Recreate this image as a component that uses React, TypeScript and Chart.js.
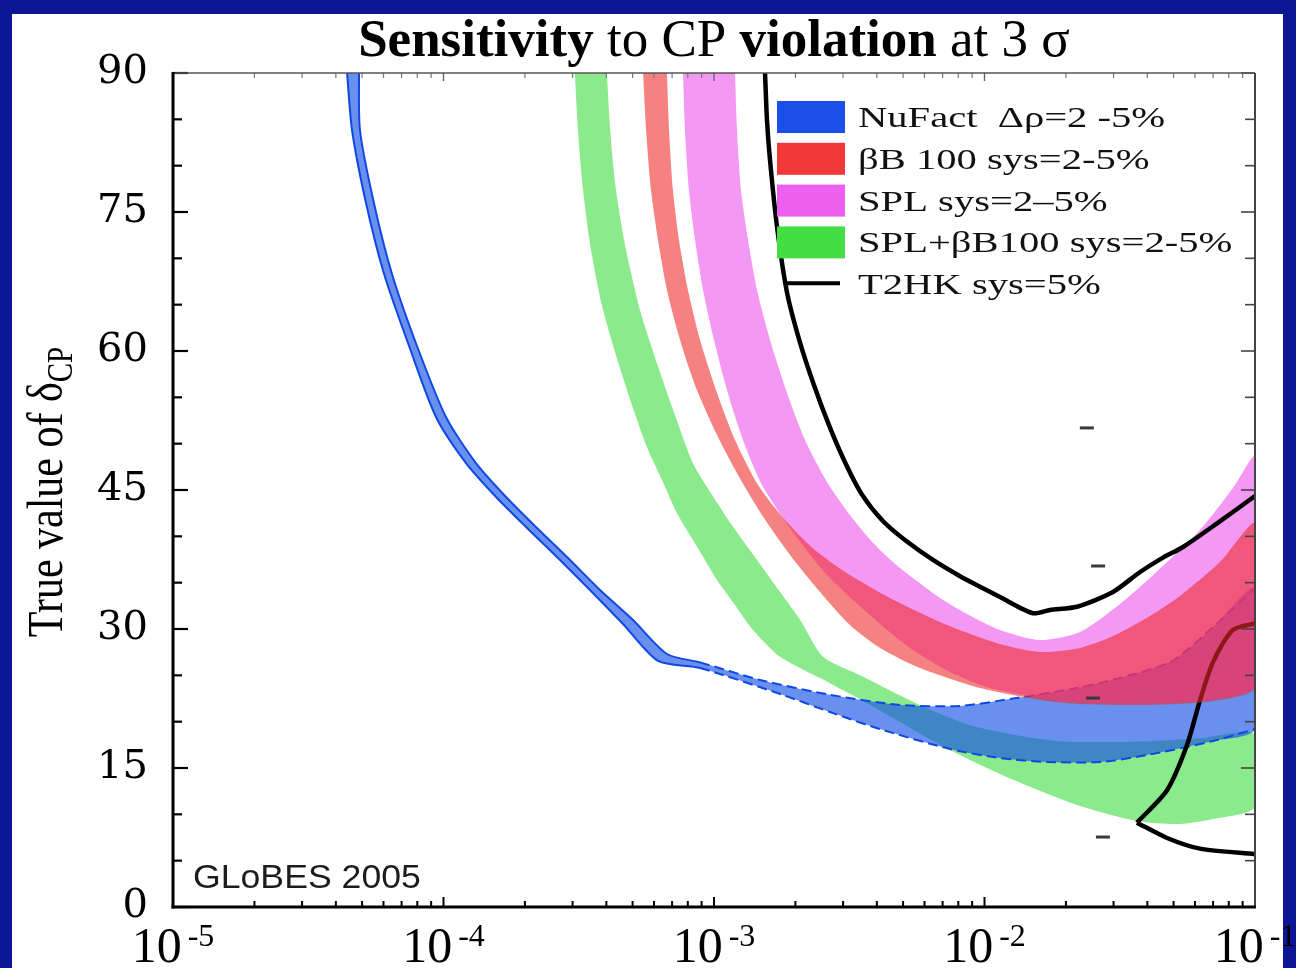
import React, { useEffect, useRef } from 'react';
import { Chart, registerables } from 'chart.js';
Chart.register(...registerables);

// ---------------- data (x = sin^2 2θ13 on log axis, y = true δCP in degrees) ----------------
const NUFACT_LOW_X = [4.4e-5, 4.59e-5, 5.17e-5, 6.03e-5, 7.46e-5, 9.38e-5, 1.211e-4, 1.577e-4, 2.036e-4, 2.65e-4, 3.48e-4, 4.61e-4, 6.21e-4, 8.88e-4, 1.8e-3, 2.684e-3, 4.11e-3, 7.46e-3, 1.141e-2, 1.702e-2, 2.673e-2, 3.988e-2, 6.99e-2, 0.1];
const NUFACT_LOW_Y = [90, 83.85, 75.97, 68.31, 60.54, 52.88, 47.91, 44.14, 40.9, 37.66, 34.21, 30.54, 26.55, 25.79, 22.88, 21.04, 19.2, 17.05, 16.08, 15.65, 15.65, 16.4, 17.91, 19.2];
const NUFACT_HIGH_X = [4.87e-5, 4.91e-5, 5.53e-5, 6.45e-5, 7.98e-5, 1.021e-4, 1.318e-4, 1.717e-4, 2.216e-4, 2.886e-4, 3.79e-4, 5.02e-4, 6.7e-4, 8.88e-4, 1.48e-3, 2.684e-3, 4.87e-3, 8.12e-3, 1.275e-2, 2.254e-2, 3.451e-2, 4.977e-2, 6.99e-2, 0.1];
const NUFACT_HIGH_Y = [90, 83.85, 75.97, 68.31, 60.54, 52.88, 47.91, 44.14, 40.9, 37.66, 34.21, 30.97, 27.3, 26.4, 24.5, 22.9, 21.8, 21.7, 22.5, 23.7, 25.0, 26.6, 30.2, 34.4];

const GREEN_LOW_X = [3.06e-4, 3.14e-4, 3.28e-4, 3.51e-4, 3.85e-4, 4.34e-4, 4.93e-4, 5.65e-4, 6.42e-4, 7.3e-4, 8.65e-4, 1.026e-3, 1.196e-3, 1.394e-3, 1.754e-3, 2.466e-3, 3.68e-3, 4.87e-3, 6.45e-3, 8.84e-3, 1.141e-2, 1.511e-2, 2.254e-2, 3.66e-2, 5.28e-2, 6.99e-2, 0.1];
const GREEN_LOW_Y = [90, 83.9, 77.4, 70.9, 64.96, 59.57, 54.5, 49.64, 46.1, 42.5, 38.9, 35.3, 32.6, 29.9, 27.0, 24.7, 22.0, 19.96, 17.91, 15.86, 14.35, 12.84, 10.9, 9.28, 8.96, 9.5, 10.79];
const GREEN_HIGH_X = [4.02e-4, 4.13e-4, 4.34e-4, 4.73e-4, 5.33e-4, 6.1e-4, 7.17e-4, 8.36e-4, 9.83e-4, 1.165e-3, 1.382e-3, 1.68e-3, 2.08e-3, 2.53e-3, 3.47e-3, 4.59e-3, 6.29e-3, 8.84e-3, 1.275e-2, 1.901e-2, 2.673e-2, 4.09e-2, 6.26e-2, 0.1];
const GREEN_HIGH_Y = [90, 83.9, 77.4, 70.9, 64.4, 59.0, 53.1, 47.9, 44.5, 41.2, 38.2, 34.75, 31.0, 27.0, 25.0, 23.2, 21.3, 19.6, 18.6, 17.9, 17.8, 17.9, 18.2, 18.6];

const RED_LOW_X = [5.47e-4, 5.61e-4, 5.85e-4, 6.21e-4, 6.7e-4, 7.49e-4, 8.65e-4, 1.026e-3, 1.227e-3, 1.505e-3, 1.91e-3, 2.466e-3, 3.18e-3, 4.11e-3, 5.78e-3, 9.63e-3, 1.702e-2, 2.254e-2, 3.988e-2, 6.99e-2, 0.1];
const RED_LOW_Y = [90, 83.85, 77.37, 71.98, 66.58, 61.19, 55.79, 50.93, 46.62, 42.3, 37.99, 33.99, 30.43, 27.95, 25.79, 23.63, 22.23, 21.91, 21.8, 22.23, 23.74];
const RED_HIGH_X = [6.7e-4, 6.82e-4, 7.05e-4, 7.42e-4, 8.01e-4, 8.88e-4, 1.017e-3, 1.196e-3, 1.455e-3, 1.83e-3, 2.36e-3, 3.18e-3, 4.47e-3, 7.27e-3, 1.141e-2, 1.605e-2, 2.254e-2, 2.985e-2, 4.09e-2, 5.28e-2, 7.42e-2, 0.1];
const RED_HIGH_Y = [90, 83.85, 77.37, 71.98, 66.58, 61.19, 55.79, 50.39, 45.54, 41.76, 38.53, 35.83, 33.35, 30.43, 28.38, 27.52, 27.95, 29.24, 31.4, 33.56, 37.23, 41.33];

const SPL_LOW_X = [7.68e-4, 7.81e-4, 8.08e-4, 8.51e-4, 9.11e-4, 1.0e-3, 1.117e-3, 1.28e-3, 1.505e-3, 1.91e-3, 2.617e-3, 3.77e-3, 5.3e-3, 7.46e-3, 1.048e-2, 1.702e-2, 2.254e-2, 3.988e-2, 6.99e-2, 0.1];
const SPL_LOW_Y = [90, 83.85, 77.37, 71.98, 66.58, 61.19, 55.79, 50.39, 45.54, 40.9, 35.83, 31.51, 27.95, 25.36, 23.63, 22.45, 22.12, 22.01, 22.45, 23.96];
const SPL_HIGH_X = [1.196e-3, 1.216e-3, 1.258e-3, 1.336e-3, 1.442e-3, 1.611e-3, 1.846e-3, 2.17e-3, 2.617e-3, 3.18e-3, 3.94e-3, 4.87e-3, 6.85e-3, 8.62e-3, 1.141e-2, 1.605e-2, 2.254e-2, 3.17e-2, 4.09e-2, 6.26e-2, 8.29e-2, 0.1];
const SPL_HIGH_Y = [90, 83.85, 77.37, 71.98, 66.58, 61.19, 55.79, 50.39, 45.86, 42.3, 39.06, 36.58, 33.35, 31.62, 29.89, 28.81, 29.68, 32.7, 35.5, 40.68, 45.22, 48.56];

const T2HK_A_X = [1.544e-3, 1.57e-3, 1.611e-3, 1.71e-3, 1.862e-3, 2.08e-3, 2.343e-3, 2.661e-3, 3.05e-3, 3.525e-3, 4.21e-3, 5.08e-3, 6.45e-3, 8.12e-3, 9.87e-3, 1.141e-2, 1.511e-2, 1.746e-2, 2.198e-2, 2.985e-2, 3.76e-2, 4.57e-2, 5.42e-2, 7.24e-2, 0.1];
const T2HK_A_Y = [90, 84.9, 80.6, 73.4, 66.3, 60.9, 56.3, 52.0, 48.0, 44.5, 41.65, 39.6, 37.45, 35.7, 34.4, 33.45, 31.7, 32.05, 32.4, 34.0, 36.15, 37.7, 38.85, 41.4, 44.35];
const T2HK_B_X = [0.1, 8.29e-2, 6.99e-2, 6.26e-2, 5.61e-2, 4.73e-2, 3.66e-2];
const T2HK_B_Y = [30.6, 29.9, 26.4, 22.3, 17.5, 12.6, 9.1];
const T2HK_C_X = [3.66e-2, 4.73e-2, 6.26e-2, 0.1];
const T2HK_C_Y = [9.1, 7.45, 6.3, 5.7];

const MARK_X = [2.39e-2, 2.63e-2, 2.52e-2, 2.74e-2];
const MARK_Y = [51.7, 36.8, 22.55, 7.55];

const Y_TICKS = [0, 15, 30, 45, 60, 75, 90];
const Y_MINOR = [5, 10, 20, 25, 35, 40, 50, 55, 65, 70, 80, 85];
const X_DECADES = [1e-5, 1e-4, 1e-3, 1e-2, 1e-1];
const X_EXPONENTS = ['-5', '-4', '-3', '-2', '-1'];
const X_MINOR_MULT = [2, 3, 4, 5, 6, 7, 8, 9];

const TITLE_PARTS = [
  { t: 'Sensitivity', b: true },
  { t: ' to CP ', b: false },
  { t: 'violation', b: true },
  { t: ' at 3 ', b: false },
  { t: 'σ', b: false },
];
const LEGEND_LABELS = ['NuFact  Δρ=2 -5%', 'βB 100 sys=2-5%', 'SPL sys=2–5%', 'SPL+βB100 sys=2-5%', 'T2HK sys=5%'];
const LEGEND_COLORS = ['#1a50e8', '#f03838', '#ee5fee', '#44dd44', '#000000'];

// ---------------- helpers ----------------
const pts = (xs: number[], ys: number[]) => xs.map((x, i) => ({ x, y: ys[i] }));
const polygon = (lx: number[], ly: number[], ux: number[], uy: number[]) => [
  ...pts(lx, ly),
  ...pts(ux, uy).reverse(),
];

const TENSION = 0.25;

const band = (data: any[], color: string, order: number) => ({
  data,
  showLine: true,
  fill: 'shape',
  backgroundColor: color,
  borderColor: 'rgba(0,0,0,0)',
  borderWidth: 0,
  pointRadius: 0,
  tension: TENSION,
  order,
});

const curve = (data: any[], color: string, width: number, order: number, extra: any = {}) => ({
  data,
  showLine: true,
  fill: false,
  borderColor: color,
  borderWidth: width,
  borderJoinStyle: 'round',
  pointRadius: 0,
  tension: TENSION,
  order,
  ...extra,
});

const SERIF = '"Liberation Serif", "Times New Roman", serif';

const decor = {
  id: 'decor',
  afterDraw(chart: any) {
    const { ctx, chartArea: a } = chart;
    const xs = chart.scales.x;
    const ys = chart.scales.y;
    const seg = (x1: number, y1: number, x2: number, y2: number, w: number, c: string) => {
      ctx.beginPath();
      ctx.lineWidth = w;
      ctx.strokeStyle = c;
      ctx.moveTo(x1, y1);
      ctx.lineTo(x2, y2);
      ctx.stroke();
    };
    ctx.save();
    ctx.lineCap = 'butt';

    // y ticks (inward, left and right)
    for (const v of Y_TICKS) {
      const p = ys.getPixelForValue(v);
      seg(a.left, p, a.left + 15, p, 2.2, '#000');
      seg(a.right, p, a.right - 14, p, 1.6, '#444');
    }
    for (const v of Y_MINOR) {
      const p = ys.getPixelForValue(v);
      seg(a.left, p, a.left + 9, p, 2.2, '#000');
      seg(a.right, p, a.right - 10, p, 1.6, '#444');
    }
    // x ticks (inward, bottom and top)
    X_DECADES.forEach((d, i) => {
      const p = xs.getPixelForValue(d);
      seg(p, a.bottom, p, a.bottom - 10, 2, '#000');
      seg(p, a.top, p, a.top + 8, 1.4, '#666');
      if (i < X_DECADES.length - 1) {
        for (const m of X_MINOR_MULT) {
          const q = xs.getPixelForValue(d * m);
          seg(q, a.bottom, q, a.bottom - 6, 2, '#000');
          seg(q, a.top, q, a.top + 5, 1.2, '#777');
        }
      }
    });

    // frame
    seg(a.left, a.top, a.right, a.top, 1.6, '#555');
    seg(a.right, a.top, a.right, a.bottom, 2, '#444');
    seg(a.left, a.top - 1, a.left, a.bottom + 1.5, 3, '#000');
    seg(a.left - 1.5, a.bottom, a.right + 1, a.bottom, 3, '#000');

    // x labels 10^n
    ctx.fillStyle = '#000';
    ctx.textBaseline = 'alphabetic';
    ctx.textAlign = 'left';
    X_DECADES.forEach((d, i) => {
      const p = xs.getPixelForValue(d);
      ctx.font = `50px ${SERIF}`;
      const w1 = ctx.measureText('10').width;
      ctx.font = `32px ${SERIF}`;
      const w2 = ctx.measureText(X_EXPONENTS[i]).width;
      const gap = 6;
      const start = p - (w1 + gap + w2) / 2;
      ctx.font = `50px ${SERIF}`;
      ctx.fillText('10', start, 962);
      ctx.font = `32px ${SERIF}`;
      ctx.fillText(X_EXPONENTS[i], start + w1 + gap, 946);
    });

    // title with mixed weights
    const tsize = 53;
    let tw = 0;
    for (const part of TITLE_PARTS) {
      ctx.font = `${part.b ? 'bold ' : ''}${tsize}px ${SERIF}`;
      tw += ctx.measureText(part.t).width;
    }
    let tx = (a.left + a.right) / 2 - tw / 2;
    for (const part of TITLE_PARTS) {
      ctx.font = `${part.b ? 'bold ' : ''}${tsize}px ${SERIF}`;
      ctx.fillText(part.t, tx, 56);
      tx += ctx.measureText(part.t).width;
    }

    // y axis title (rotated, with subscript)
    ctx.save();
    ctx.translate(62, 492);
    ctx.rotate(-Math.PI / 2);
    ctx.scale(1, 1.2);
    ctx.font = `42px ${SERIF}`;
    const main = 'True value of δ';
    const wm = ctx.measureText(main).width;
    ctx.font = `29px ${SERIF}`;
    const ws = ctx.measureText('CP').width;
    const sx = -(wm + ws) / 2;
    ctx.font = `42px ${SERIF}`;
    ctx.fillText(main, sx, 0);
    ctx.font = `29px ${SERIF}`;
    ctx.fillText('CP', sx + wm, 8);
    ctx.restore();

    // GLoBES stamp
    ctx.save();
    ctx.translate(193, 888);
    ctx.scale(1.08, 1);
    ctx.font = '33px "Liberation Sans", Arial, sans-serif';
    ctx.fillStyle = '#1c1c1c';
    ctx.fillText('GLoBES 2005', 0, 0);
    ctx.restore();

    // legend
    LEGEND_LABELS.forEach((label, i) => {
      const base = 127 + i * 41.8;
      if (i < 4) {
        ctx.fillStyle = LEGEND_COLORS[i];
        ctx.fillRect(777, base - 26, 68, 32);
      } else {
        seg(785, base - 11, 840, base - 11, 4, '#000');
      }
      ctx.save();
      ctx.translate(858, base);
      ctx.scale(1.4, 1);
      ctx.font = `29px ${SERIF}`;
      ctx.fillStyle = '#111';
      ctx.fillText(label, 0, 0);
      ctx.restore();
    });

    ctx.restore();
  },
};

export default function App() {
  const ref = useRef<HTMLCanvasElement>(null);
  useEffect(() => {
    const canvas = ref.current;
    if (!canvas) return;
    const blueDash = { segment: { borderDash: (c: any) => (c.p0.parsed.x < 8e-4 ? [] : [10, 5]) } };
    const datasets: any[] = [
      band(polygon(GREEN_LOW_X, GREEN_LOW_Y, GREEN_HIGH_X, GREEN_HIGH_Y), 'rgba(36,215,36,0.53)', 10),
      band(polygon(NUFACT_LOW_X, NUFACT_LOW_Y, NUFACT_HIGH_X, NUFACT_HIGH_Y), 'rgba(20,80,230,0.64)', 9),
      curve(pts(NUFACT_LOW_X, NUFACT_LOW_Y), '#0f48e4', 2, 8, blueDash),
      curve(pts(NUFACT_HIGH_X, NUFACT_HIGH_Y), '#0f48e4', 2, 8, blueDash),
      band(polygon(SPL_LOW_X, SPL_LOW_Y, SPL_HIGH_X, SPL_HIGH_Y), 'rgba(235,80,235,0.59)', 7),
      curve(pts(T2HK_A_X, T2HK_A_Y), '#000', 4.5, 6),
      curve(pts(T2HK_B_X, T2HK_B_Y), '#000', 4.5, 6),
      curve(pts(T2HK_C_X, T2HK_C_Y), '#000', 4.5, 6),
      band(polygon(RED_LOW_X, RED_LOW_Y, RED_HIGH_X, RED_HIGH_Y), 'rgba(240,40,40,0.59)', 5),
      {
        data: pts(MARK_X, MARK_Y),
        showLine: false, fill: false, pointStyle: 'line', pointRadius: 7,
        pointBorderWidth: 3, pointBorderColor: '#3a3a3a', pointBackgroundColor: '#3a3a3a', order: 1,
      },
    ];
    const chart = new Chart(canvas, {
      type: 'line',
      data: { datasets },
      options: {
        responsive: false,
        animation: false,
        devicePixelRatio: 1,
        events: [],
        layout: { padding: { left: 0, top: 73, right: 41, bottom: 61 } },
        plugins: { legend: { display: false }, tooltip: { enabled: false }, title: { display: false } },
        scales: {
          x: { type: 'logarithmic', min: 1e-5, max: 0.1, display: false },
          y: {
            type: 'linear',
            min: 0,
            max: 90,
            ticks: {
              stepSize: 15,
              color: '#000',
              padding: 25,
              font: { family: '"DejaVu Serif", serif', size: 40 },
            },
            grid: { display: false, drawTicks: false },
            border: { display: false },
            afterFit: (s: any) => {
              s.width = 173;
            },
          },
        },
      } as any,
      plugins: [decor],
    });
    return () => chart.destroy();
  }, []);

  return (
    <div style={{ position: 'fixed', left: 0, top: 0, width: 1296, height: 968, background: '#0c1694', overflow: 'hidden' }}>
      <div style={{ position: 'absolute', left: 12, top: 14, width: 1271, height: 954, background: '#ffffff' }} />
      <canvas ref={ref} width={1296} height={968} style={{ position: 'absolute', left: 0, top: 0, width: 1296, height: 968 }} />
    </div>
  );
}
